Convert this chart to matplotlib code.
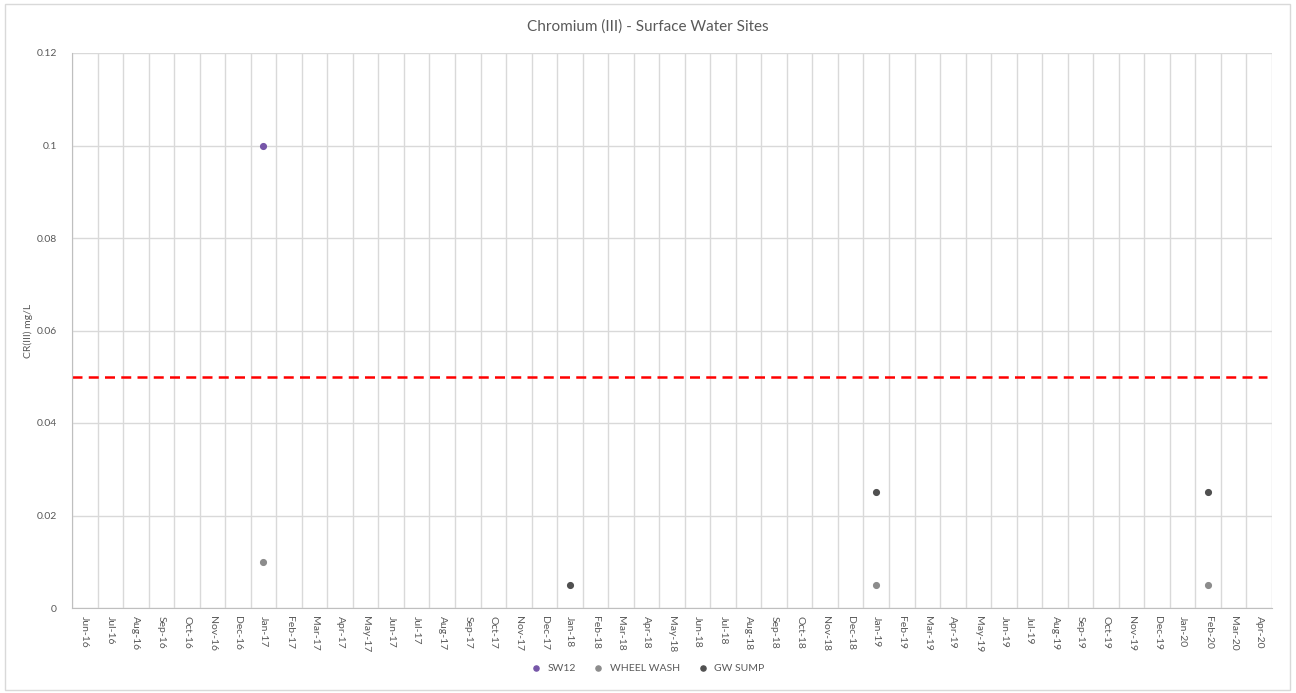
#!/usr/bin/env python3

import matplotlib.pyplot as plt
import numpy as np
from matplotlib.patches import Rectangle

# month categories on the x axis
months = (['Jun-16', 'Jul-16', 'Aug-16', 'Sep-16', 'Oct-16', 'Nov-16', 'Dec-16']
          + [m + '-17' for m in ['Jan', 'Feb', 'Mar', 'Apr', 'May', 'Jun', 'Jul', 'Aug', 'Sep', 'Oct', 'Nov', 'Dec']]
          + [m + '-18' for m in ['Jan', 'Feb', 'Mar', 'Apr', 'May', 'Jun', 'Jul', 'Aug', 'Sep', 'Oct', 'Nov', 'Dec']]
          + [m + '-19' for m in ['Jan', 'Feb', 'Mar', 'Apr', 'May', 'Jun', 'Jul', 'Aug', 'Sep', 'Oct', 'Nov', 'Dec']]
          + ['Jan-20', 'Feb-20', 'Mar-20', 'Apr-20'])

sw12_months = ['Jan-17']
sw12_values = [0.1]

wheel_wash_months = ['Jan-17', 'Jan-19', 'Feb-20']
wheel_wash_values = [0.01, 0.005, 0.005]

gw_sump_months = ['Jan-18', 'Jan-19', 'Feb-20']
gw_sump_values = [0.005, 0.025, 0.025]

limit_value = 0.05
y_ticks = [0, 0.02, 0.04, 0.06, 0.08, 0.1, 0.12]
y_tick_labels = ['0', '0.02', '0.04', '0.06', '0.08', '0.1', '0.12']

plt.rcParams['font.family'] = ['Lato', 'DejaVu Sans']

fig = plt.figure(figsize=(12.96, 6.93), dpi=100)
ax = fig.add_axes([72 / 1296, 1 - 608 / 693, 1200 / 1296, 555 / 693])

# outer chart frame
fig.patches.append(Rectangle((5 / 1296, 3 / 693), 1285 / 1296, 686 / 693,
                             transform=fig.transFigure, fill=False,
                             edgecolor='#d9d9d9', linewidth=1))

idx = {m: i for i, m in enumerate(months)}

ax.scatter([idx[m] for m in sw12_months], sw12_values, s=17,
           color='#7656a8', label='SW12', zorder=3)
ax.scatter([idx[m] for m in wheel_wash_months], wheel_wash_values, s=17,
           color='#8c8c8c', label='WHEEL WASH', zorder=3)
ax.scatter([idx[m] for m in gw_sump_months], gw_sump_values, s=17,
           color='#505050', label='GW SUMP', zorder=3)

ax.plot([-0.5, len(months) - 0.7], [limit_value, limit_value], color='#ff0000',
        linewidth=1.8, dashes=(4, 2.5), zorder=2)

ax.set_xlim(-0.5, len(months) - 0.5)
ax.set_ylim(0, 0.12)

ax.set_xticks(np.arange(len(months)))
ax.set_xticklabels(months, rotation=-90, fontsize=7.5, color='#595959')
ax.set_xticks(np.arange(len(months) + 1) - 0.5, minor=True)
ax.set_yticks(y_ticks)
ax.set_yticklabels(y_tick_labels, fontsize=7.5, color='#595959')
ax.tick_params(axis='x', which='both', length=0, pad=6)
ax.tick_params(axis='y', which='both', length=0, pad=11)

ax.grid(True, axis='y', which='major', color='#d9d9d9', linewidth=1)
ax.grid(True, axis='x', which='minor', color='#d9d9d9', linewidth=1)
ax.set_axisbelow(True)

for side in ['top', 'right']:
    ax.spines[side].set_visible(False)
for side in ['left', 'bottom']:
    ax.spines[side].set_color('#bfbfbf')

ax.set_ylabel('CR(III) mg/L', fontsize=7.5, color='#595959')
ax.yaxis.set_label_coords(-0.0325, 0.5)
fig.text(0.5, 1 - 27 / 693, 'Chromium (III) - Surface Water Sites',
         ha='center', va='center', fontsize=11, color='#595959')

fig.legend(loc='center', bbox_to_anchor=(645 / 1296, 1 - 668 / 693), ncol=3,
           frameon=False, fontsize=7.5, handletextpad=0.1, columnspacing=1.2,
           markerscale=0.9, labelcolor='#595959')

fig.savefig('out.png', dpi=100)
